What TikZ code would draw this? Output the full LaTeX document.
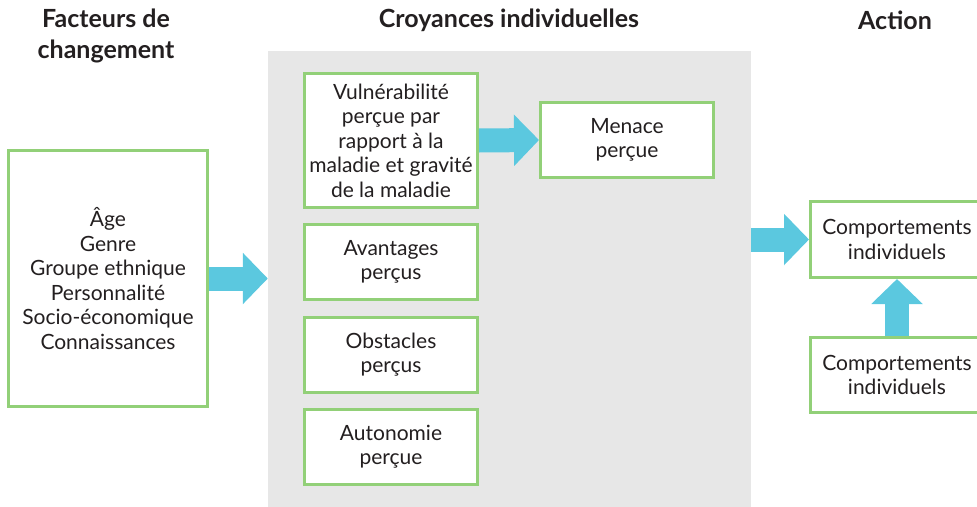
\documentclass[tikz,border=0pt]{standalone}
\usepackage{fontspec}
\setmainfont{Lato}
\usepackage{xcolor}
\usetikzlibrary{arrows.meta}
\definecolor{boxgreen}{RGB}{146,208,120}
\definecolor{arrowblue}{RGB}{91,200,223}
\definecolor{panelgray}{RGB}{231,231,231}
\definecolor{textdark}{RGB}{35,31,32}

\begin{document}
\begin{tikzpicture}[x=1pt,y=-1pt,
    box/.style={draw=boxgreen,line width=3pt,fill=white,align=center,
        text=textdark,font=\fontsize{21}{24.5}\selectfont,
        minimum width=173pt,minimum height=75pt,inner sep=0pt},
    title/.style={align=center,text=textdark,
        font=\fontsize{25}{31}\selectfont\bfseries},
    fatarrow/.style={draw=arrowblue,line width=24pt,
        -{Triangle[length=25pt,width=50pt]}}]
    \useasboundingbox (0,0) rectangle (977,506);

    % Headings
    \node[title] (tfact) at (106,36) {Facteurs de\\changement};
    \node[title] (tcroy) at (509,20) {Croyances individuelles};
    \node[title] (tact) at (895,20) {Action};

    % Grey panel
    \node[fill=panelgray,minimum width=483pt,minimum height=462pt,inner sep=0pt]
        (panel) at (509.5,282) {};

    % Factors
    \node[box,minimum width=199pt,minimum height=256pt] (facteurs) at (108,278.5)
        {Âge\\Genre\\Groupe ethnique\\Personnalité\\Socio-économique\\Connaissances};

    % Beliefs
    \node[box,minimum height=134pt] (vuln) at (391,140.5)
        {Vulnérabilité\\perçue par\\rapport à la\\maladie et gravité\\de la maladie};
    \node[box] (menace) at (627,140) {Menace\\perçue};
    \node[box] (avant) at (391,262) {Avantages\\perçus};
    \node[box] (obst) at (391,354.5) {Obstacles\\perçus};
    \node[box] (auto) at (391,446.5) {Autonomie\\perçue};

    % Action
    \node[box,minimum height=76pt] (comp) at (897,239.5) {Comportements\\individuels};
    \node[box] (compbas) at (897,375) {Comportements\\individuels};

    % Arrows
    \draw[fatarrow] (facteurs.east) -- (facteurs.east -| panel.west);
    \draw[fatarrow] (vuln.east) -- (menace.west);
    \draw[fatarrow] (panel.east |- comp.west) -- (comp.west);
    \draw[fatarrow] (compbas.north) -- (comp.south);
\end{tikzpicture}
\end{document}
